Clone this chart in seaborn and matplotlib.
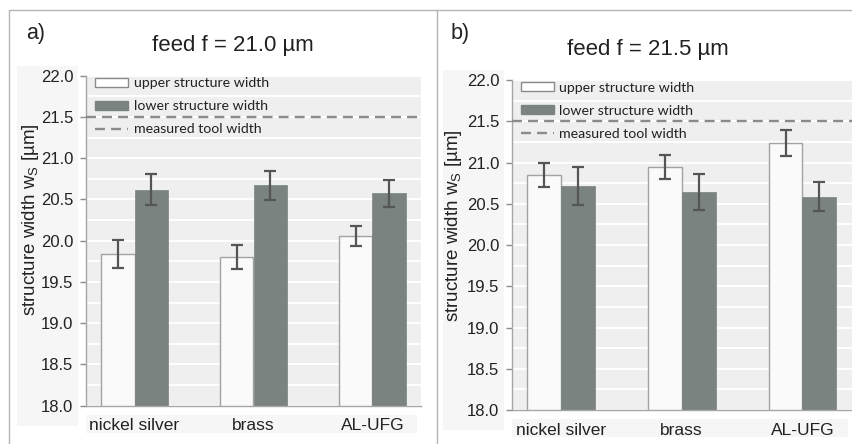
import matplotlib
matplotlib.use("Agg")
import matplotlib.pyplot as plt
from matplotlib.patches import Patch, Rectangle
from matplotlib.lines import Line2D
import numpy as np
import pandas as pd
import seaborn as sns

# ---- data -------------------------------------------------------------
materials = ["nickel silver", "brass", "AL-UFG"]
series_names = ["upper structure width", "lower structure width"]

# panel a: feed f = 21.0 µm
upper_a = [19.84, 19.80, 20.06]
upper_a_err = [0.17, 0.145, 0.12]
lower_a = [20.62, 20.67, 20.575]
lower_a_err = [0.19, 0.18, 0.165]

# panel b: feed f = 21.5 µm
upper_b = [20.85, 20.95, 21.24]
upper_b_err = [0.15, 0.145, 0.16]
lower_b = [20.72, 20.64, 20.585]
lower_b_err = [0.23, 0.22, 0.175]

tool_width = 21.5
feeds = ["feed f = 21.0 µm", "feed f = 21.5 µm"]
panel_tags = ["a)", "b)"]
y_ticks = [18.0, 18.5, 19.0, 19.5, 20.0, 20.5, 21.0, 21.5, 22.0]

# ---- style ------------------------------------------------------------
sns.set_style("white")
plt.rcParams["font.family"] = ["Liberation Sans", "DejaVu Sans"]
plt.rcParams["mathtext.fontset"] = "custom"
plt.rcParams["mathtext.rm"] = "Liberation Sans"
plt.rcParams["mathtext.it"] = "Liberation Sans"

upper_face = "#fafafa"
upper_edge = "#a2a2a2"
lower_face = "#7a8380"
err_color = "#555555"
dash_color = "#8a8a8a"
bg_color = "#efefef"
text_color = "#222222"


def long_frame(upper, upper_err, lower, lower_err):
    rows = []
    for m, v, e in zip(materials, upper, upper_err):
        rows.append({"material": m, "series": series_names[0], "value": v, "err": e})
    for m, v, e in zip(materials, lower, lower_err):
        rows.append({"material": m, "series": series_names[1], "value": v, "err": e})
    return pd.DataFrame(rows)


frames = [
    long_frame(upper_a, upper_a_err, lower_a, lower_a_err),
    long_frame(upper_b, upper_b_err, lower_b, lower_b_err),
]

W, H = 853, 444
fig = plt.figure(figsize=(W / 100, H / 100), dpi=100)

# panel frame lines
frame_kw = dict(color="#b4b4b4", lw=1.0, transform=fig.transFigure)
fig.add_artist(Line2D([9 / W, 1], [1 - 10 / H, 1 - 10 / H], **frame_kw))
fig.add_artist(Line2D([9 / W, 9 / W], [0, 1 - 10 / H], **frame_kw))
fig.add_artist(Line2D([437 / W, 437 / W], [0, 1 - 10 / H], **frame_kw))

axes_px = [(86, 75.7, 335, 330), (511.7, 80, 340, 330)]
title_px = [(233, 45), (648, 50)]
tag_px = [(26, 34), (451, 33)]
ylabel_pos = [(-0.135, 0.563), (-0.141, 0.558)]

for i, df in enumerate(frames):
    lx, ty, w, h = axes_px[i]

    # faint backing boxes behind the tick labels
    fig.add_artist(Rectangle(((lx - 69) / W, 1 - (ty + 350) / H), 61 / W, 360 / H,
                             transform=fig.transFigure, facecolor="#f6f6f6",
                             edgecolor="none", zorder=0))
    fig.add_artist(Rectangle((lx / W, 1 - (ty + 357) / H), (w - 4) / W, 18 / H,
                             transform=fig.transFigure, facecolor="#f6f6f6",
                             edgecolor="none", zorder=0))

    ax = fig.add_axes([lx / W, 1 - (ty + h) / H, w / W, h / H])
    ax.set_facecolor(bg_color)

    sns.barplot(data=df, x="material", y="value", hue="series",
                order=materials, hue_order=series_names,
                palette={series_names[0]: upper_face, series_names[1]: lower_face},
                saturation=1, width=0.56, errorbar=None, legend=False, ax=ax,
                zorder=2)

    bars = sorted(ax.patches, key=lambda p: p.get_x())
    ordered = df.set_index(["material", "series"])
    xs, ys, es = [], [], []
    k = 0
    for m in materials:
        for s in series_names:
            p = bars[k]
            k += 1
            if s == series_names[0]:
                p.set_edgecolor(upper_edge)
                p.set_linewidth(1.0)
            else:
                p.set_edgecolor(lower_face)
                p.set_linewidth(0.5)
            xs.append(p.get_x() + p.get_width() / 2)
            ys.append(ordered.loc[(m, s), "value"])
            es.append(ordered.loc[(m, s), "err"])

    ax.errorbar(xs, ys, yerr=es, fmt="none", ecolor=err_color,
                elinewidth=1.6, capsize=4.4, capthick=1.6, zorder=4)

    ax.axhline(tool_width, color=dash_color, lw=1.7, dashes=(4.2, 2.6),
               zorder=3, clip_on=False)

    ax.set_ylim(18.0, 22.0)
    ax.set_yticks(y_ticks)
    ax.set_yticklabels([f"{t:.1f}" for t in y_ticks])
    ax.set_yticks(np.arange(18.25, 22.0, 0.5), minor=True)
    ax.grid(True, axis="y", which="both", color="white", lw=1.4, zorder=0)
    ax.set_axisbelow(True)

    for side in ("top", "right"):
        ax.spines[side].set_visible(False)
    for side in ("left", "bottom"):
        ax.spines[side].set_color("#a6a6a6")
        ax.spines[side].set_linewidth(1.0)

    ax.tick_params(axis="y", which="major", direction="out", length=4,
                   width=1, color="#8c8c8c", pad=5, labelsize=12,
                   labelcolor=text_color, left=True)
    ax.tick_params(axis="y", which="minor", length=0)
    ax.tick_params(axis="x", length=0, pad=9, labelsize=12.5,
                   labelcolor=text_color)

    ax.set_xlabel("")
    ax.set_ylabel(r"structure width w$_\mathrm{S}$ [µm]", fontsize=13.5,
                  color=text_color)
    ax.yaxis.set_label_coords(*ylabel_pos[i])

    handles = [
        Patch(facecolor="white", edgecolor="#8a8a8a", lw=1.0),
        Patch(facecolor=lower_face, edgecolor=lower_face),
        Line2D([0], [0], color=dash_color, lw=1.7, dashes=(4.2, 2.6)),
    ]
    labels = series_names + ["measured tool width"]
    leg = ax.legend(handles, labels, loc="upper left",
                    bbox_to_anchor=(0.028, 0.995), frameon=False,
                    borderpad=0, borderaxespad=0, handlelength=2.3,
                    handleheight=0.62, handletextpad=0.4, labelspacing=0.78,
                    prop={"family": "Lato", "size": 10.2})
    for t in leg.get_texts():
        t.set_color(text_color)

    fig.text(title_px[i][0] / W, 1 - title_px[i][1] / H, feeds[i],
             ha="center", va="center", fontsize=16, color=text_color)
    fig.text(tag_px[i][0] / W, 1 - tag_px[i][1] / H, panel_tags[i],
             ha="left", va="center", fontsize=15.5, color=text_color)

fig.savefig("out.png", dpi=100, facecolor="white")
